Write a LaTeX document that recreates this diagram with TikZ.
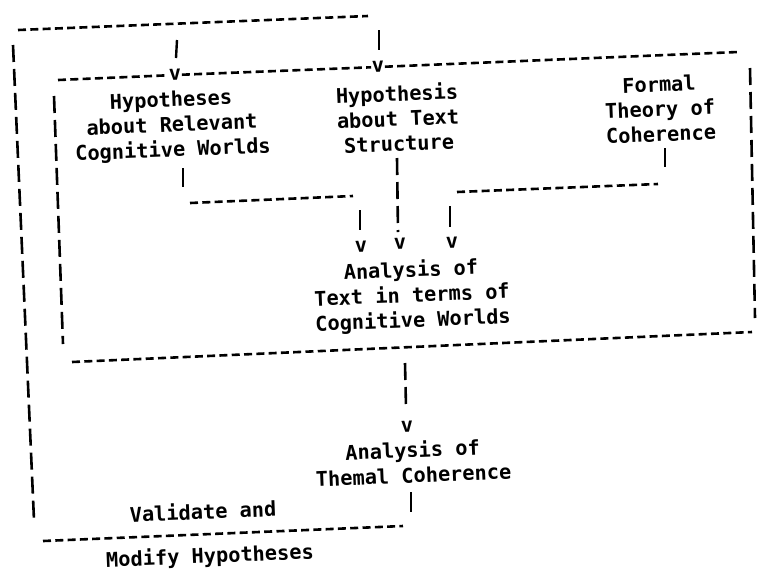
\documentclass[tikz,border=0pt]{standalone}
\usepackage{fontspec}
\newfontfamily\typew{DejaVu Sans Mono}
\begin{document}
\begin{tikzpicture}[x=1pt,y=-1pt,
  txt/.style={font=\typew\bfseries\fontsize{20.3}{25}\selectfont, align=center, inner sep=0pt, rotate=2.36},
  vch/.style={font=\typew\bfseries\fontsize{20.3}{25}\selectfont, inner sep=0.5pt, rotate=2.36},
  hdash/.style={line width=2.6pt, dash pattern=on 8pt off 4.3pt},
  vdash/.style={line width=2.6pt, dash pattern=on 17pt off 7pt},
  bar/.style={line width=2.4pt}]
\useasboundingbox[fill=white] (0,0) rectangle (757,574);

% text nodes
\node[txt] (hrel) at (172,126) {Hypotheses\\about Relevant\\Cognitive Worlds};
\node[txt] (htext) at (398,118) {Hypothesis\\about Text\\Structure};
\node[txt] (formal) at (660,109) {Formal\\Theory of\\Coherence};
\node[txt] (atext) at (412,296) {Analysis of\\Text in terms of\\Cognitive Worlds};
\node[txt] (athem) at (413,462) {Analysis of\\Themal Coherence};
\node[txt] (val) at (203,511) {Validate and};
\node[txt] (mod) at (210,557) {Modify Hypotheses};

% arrow heads (typed v)
\node[vch] (v1) at (175,75) {v};
\node[vch] (v2) at (378,67) {v};
\node[vch] (v3) at (361,247) {v};
\node[vch] (v4) at (400,244) {v};
\node[vch] (v5) at (452,243) {v};
\node[vch] (v6) at (407,427) {v};

% coordinates
\coordinate (iTL) at (58,80);
\coordinate (iTR) at (738,52);
\coordinate (iRt) at (750,68);
\coordinate (iRb) at (755,318);
\coordinate (iBL) at (72,362);
\coordinate (iBR) at (752,332);
\coordinate (iLt) at (54,96);
\coordinate (iLb) at (63,344);
\coordinate (oTL) at (18,30);
\coordinate (oTR) at (368,16);
\coordinate (oLt) at (13,45);
\coordinate (oLb) at (34,520);
\coordinate (oBL) at (43,541);
\coordinate (oBR) at (403,526);

% inner box
\draw[hdash] (iTL) -- (v1.west);
\draw[hdash] (v1.east) -- (v2.west);
\draw[hdash] (v2.east) -- (iTR);
\draw[vdash] (iRt) -- (iRb);
\draw[hdash] (iBL) -- (iBR);
\draw[vdash] (iLt) -- (iLb);

% outer feedback loop
\draw[hdash] (oTL) -- (oTR);
\draw[vdash] (oLt) -- (oLb);
\draw[hdash] (oBL) -- (oBR);
\draw[bar] (177,40) -- (176,58);
\draw[bar] (379,30) -- (379,50);
\draw[bar] (411,492) -- (411,512);

% from Hypotheses about Relevant Cognitive Worlds
\draw[bar] (183,168) -- (183,187);
\draw[hdash] (190,203) -- (353,196);
\draw[bar] (360,210) -- (360,230);

% from Hypothesis about Text Structure
\draw[vdash] (397,158) -- (398,232);

% from Formal Theory of Coherence
\draw[bar] (665,148) -- (665,167);
\draw[hdash] (457,192) -- (658,184);
\draw[bar] (450,206) -- (450,227);

% to Analysis of Themal Coherence
\draw[vdash] (405,363) -- (406,407);
\end{tikzpicture}
\end{document}
